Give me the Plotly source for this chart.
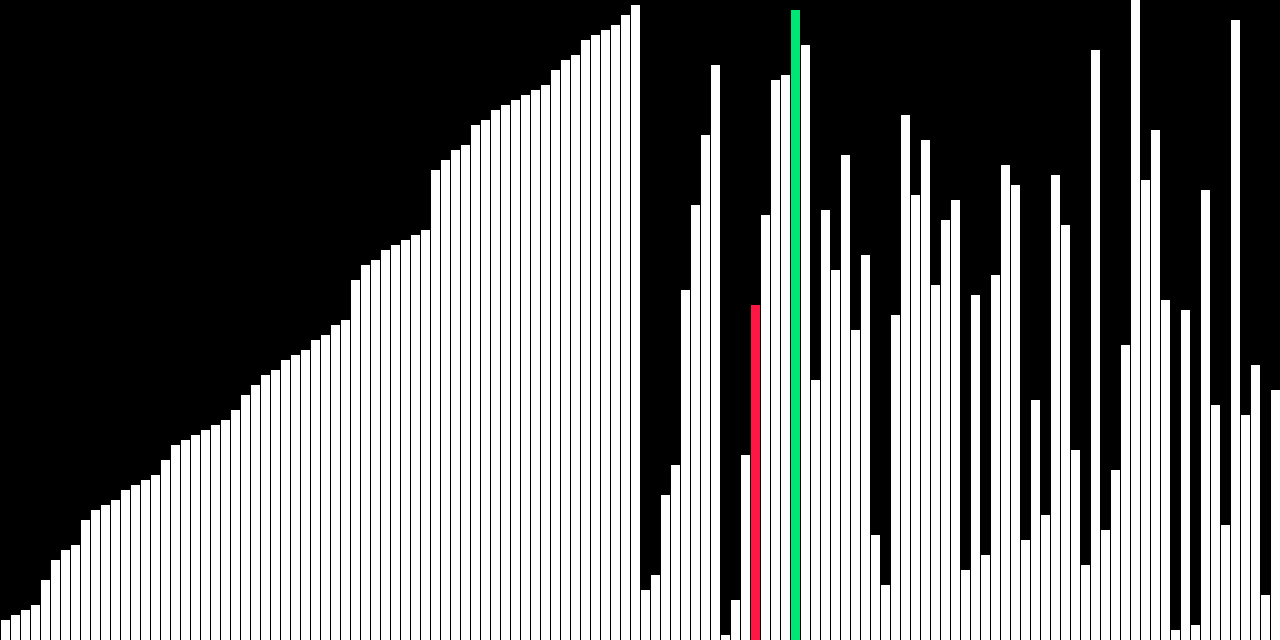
import plotly.graph_objects as go

values = [
    4, 5, 6, 7, 12, 16, 18, 19, 24, 26, 27, 28, 30, 31, 32, 33,
    36, 39, 40, 41, 42, 43, 44, 46, 49, 51, 53, 54, 56, 57, 58, 60,
    61, 63, 64, 72, 75, 76, 78, 79, 80, 81, 82, 94, 96, 98, 99, 103,
    104, 106, 107, 108, 109, 110, 111, 114, 116, 117, 120, 121, 122, 123, 125, 127,
    10, 13, 29, 35, 70, 87, 101, 115, 1, 8, 37, 67, 85, 112, 113, 126,
    119, 52, 86, 74, 97, 62, 77, 21, 11, 65, 105, 89, 100, 71, 84, 88,
    14, 69, 17, 73, 95, 91, 20, 48, 25, 93, 83, 38, 15, 118, 22, 34,
    59, 128, 92, 102, 68, 2, 66, 3, 90, 47, 23, 124, 45, 55, 9, 50,
]
positions = list(range(len(values)))
compare_index = 75   # red highlighted bar
current_index = 79   # green highlighted bar

base_color = "#ffffff"
compare_color = "#ff1744"
current_color = "#00e676"

colors = [base_color] * len(values)
colors[compare_index] = compare_color
colors[current_index] = current_color

fig = go.Figure(
    go.Bar(
        x=positions,
        y=values,
        marker=dict(color=colors, line=dict(width=0)),
        hoverinfo="skip",
    )
)

fig.update_layout(
    width=1280,
    height=640,
    margin=dict(l=0, r=0, t=0, b=0, pad=0),
    paper_bgcolor="#000000",
    plot_bgcolor="#000000",
    bargap=0.1,
    showlegend=False,
    xaxis=dict(range=[-0.55, len(values) - 0.55], visible=False, fixedrange=True),
    yaxis=dict(range=[0, 128], visible=False, fixedrange=True),
)

fig.write_html("out.html", config={"displayModeBar": False})
